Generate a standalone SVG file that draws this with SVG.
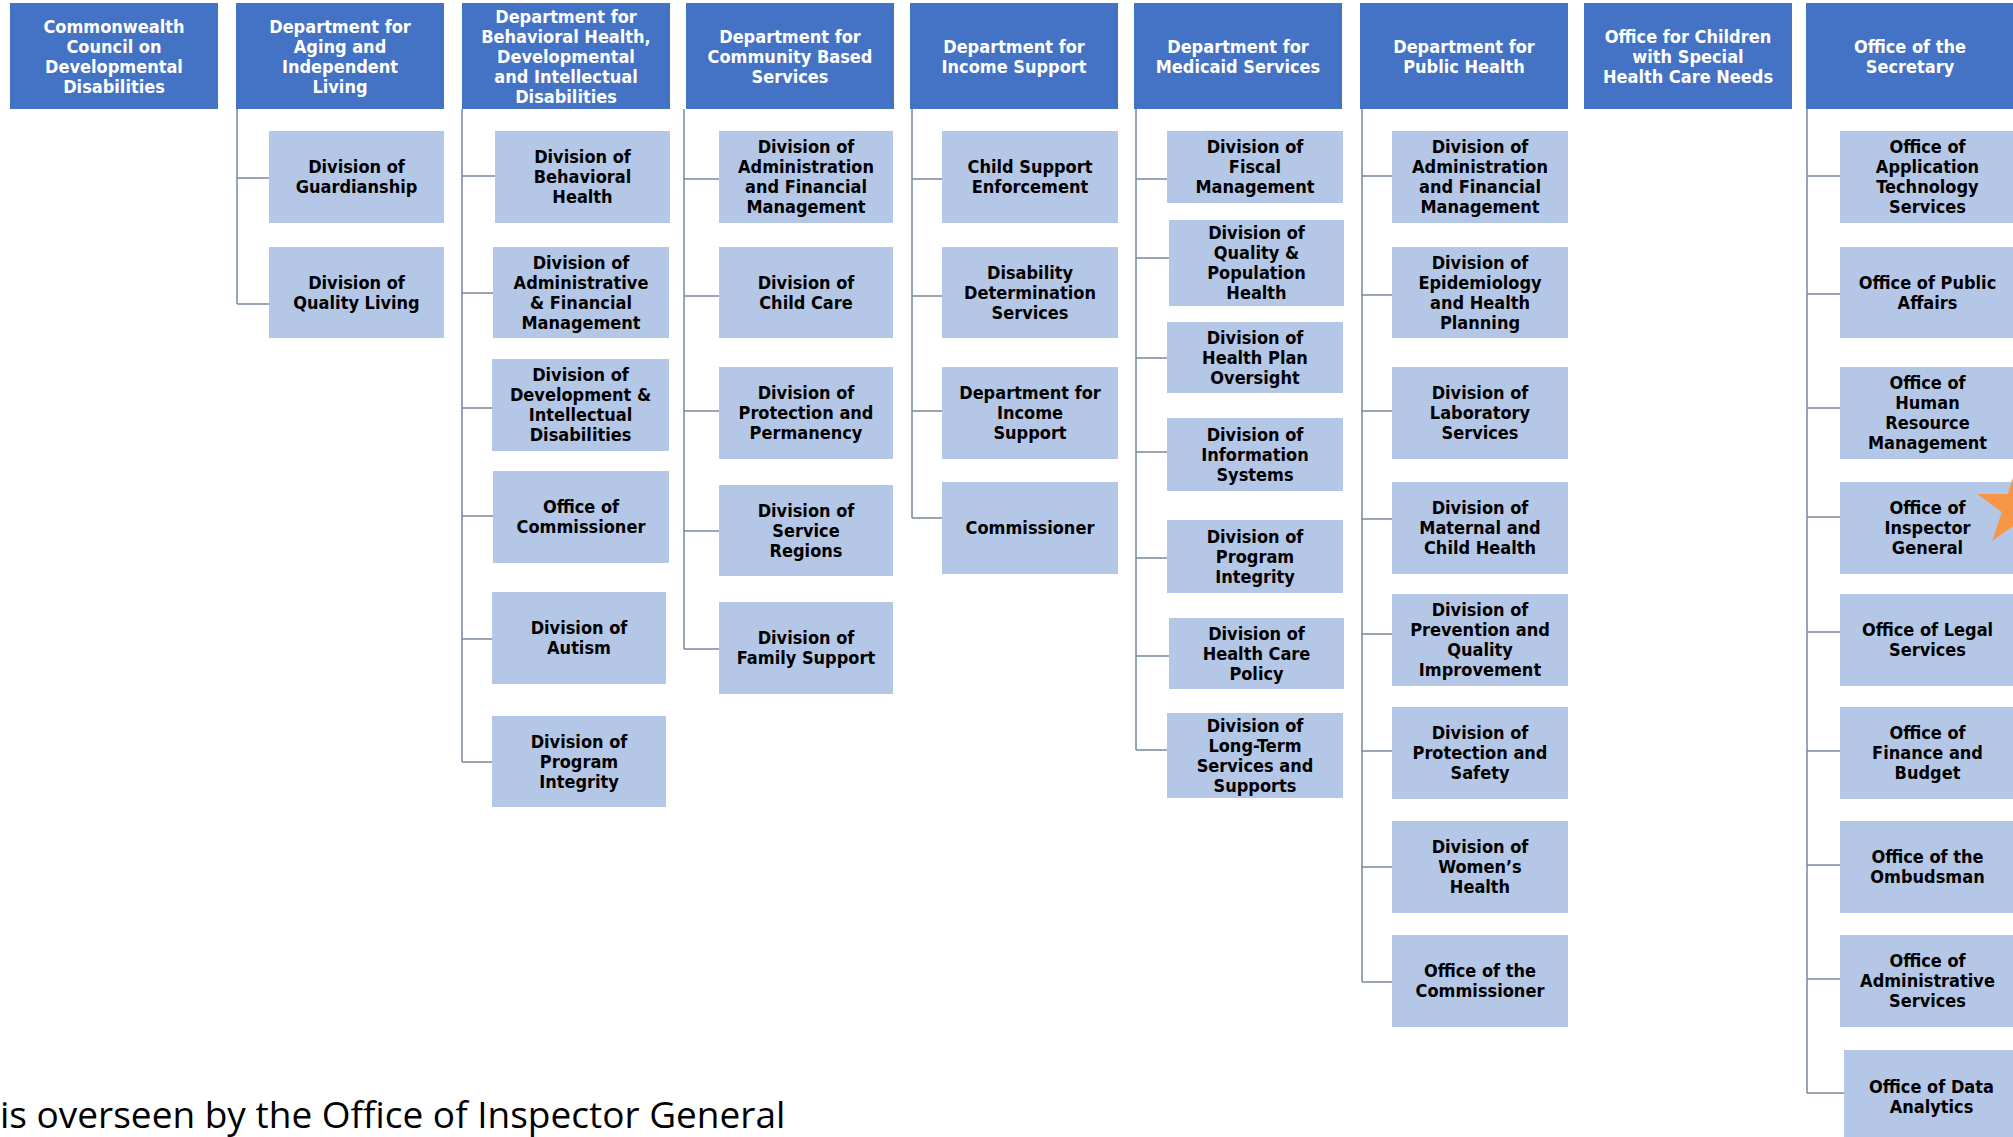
<svg xmlns="http://www.w3.org/2000/svg" width="2013" height="1137" viewBox="0 0 2013 1137">
<style>
.hd{fill:#4472C4}
.ch{fill:#B4C7E7}
.ht{font-family:"DejaVu Sans Condensed","DejaVu Sans",sans-serif;font-stretch:condensed;font-weight:bold;font-size:18px;fill:#FFFFFF;text-anchor:middle}
.ct{font-family:"DejaVu Sans Condensed","DejaVu Sans",sans-serif;font-stretch:condensed;font-weight:bold;font-size:18px;fill:#000000;text-anchor:middle}
.cn{stroke:#7A889C;stroke-width:1.5;fill:none}
.note{font-family:"Open Sans",sans-serif;font-size:37px;fill:#000000}
</style>
<rect width="2013" height="1137" fill="#FFFFFF"/>
<g id="connectors">
<path class="cn" d="M237 109V304M237 178H269M237 304H269"/>
<path class="cn" d="M462 109V762M462 176H495M462 293H493M462 408H492M462 516H493M462 639H492M462 762H492"/>
<path class="cn" d="M684 109V649M684 179H719M684 296H719M684 411H719M684 531H719M684 649H719"/>
<path class="cn" d="M912 109V518M912 179H942M912 296H942M912 411H942M912 518H942"/>
<path class="cn" d="M1136 109V750M1136 179H1167M1136 258H1169M1136 358H1167M1136 452H1167M1136 558H1167M1136 656H1169M1136 750H1167"/>
<path class="cn" d="M1362 109V982M1362 176H1392M1362 295H1392M1362 411H1392M1362 519H1392M1362 634H1392M1362 751H1392M1362 867H1392M1362 982H1392"/>
<path class="cn" d="M1807 109V1093M1807 176H1840M1807 294H1840M1807 408H1840M1807 517H1840M1807 632H1840M1807 751H1840M1807 865H1840M1807 979H1840M1807 1093H1844"/>
</g>
<g id="h1"><rect class="hd" x="10" y="3" width="208" height="106"/><text class="ht"><tspan x="114" y="33">Commonwealth</tspan><tspan x="114" y="53">Council on</tspan><tspan x="114" y="73">Developmental</tspan><tspan x="114" y="93">Disabilities</tspan></text></g>
<g id="h2"><rect class="hd" x="236" y="3" width="208" height="106"/><text class="ht"><tspan x="340" y="33">Department for</tspan><tspan x="340" y="53">Aging and</tspan><tspan x="340" y="73">Independent</tspan><tspan x="340" y="93">Living</tspan></text></g>
<g id="h3"><rect class="hd" x="462" y="3" width="208" height="106"/><text class="ht"><tspan x="566" y="23">Department for</tspan><tspan x="566" y="43">Behavioral Health,</tspan><tspan x="566" y="63">Developmental</tspan><tspan x="566" y="83">and Intellectual</tspan><tspan x="566" y="103">Disabilities</tspan></text></g>
<g id="h4"><rect class="hd" x="686" y="3" width="208" height="106"/><text class="ht"><tspan x="790" y="43">Department for</tspan><tspan x="790" y="63">Community Based</tspan><tspan x="790" y="83">Services</tspan></text></g>
<g id="h5"><rect class="hd" x="910" y="3" width="208" height="106"/><text class="ht"><tspan x="1014" y="53">Department for</tspan><tspan x="1014" y="73">Income Support</tspan></text></g>
<g id="h6"><rect class="hd" x="1134" y="3" width="208" height="106"/><text class="ht"><tspan x="1238" y="53">Department for</tspan><tspan x="1238" y="73">Medicaid Services</tspan></text></g>
<g id="h7"><rect class="hd" x="1360" y="3" width="208" height="106"/><text class="ht"><tspan x="1464" y="53">Department for</tspan><tspan x="1464" y="73">Public Health</tspan></text></g>
<g id="h8"><rect class="hd" x="1584" y="3" width="208" height="106"/><text class="ht"><tspan x="1688" y="43">Office for Children</tspan><tspan x="1688" y="63">with Special</tspan><tspan x="1688" y="83">Health Care Needs</tspan></text></g>
<g id="h9"><rect class="hd" x="1806" y="3" width="208" height="106"/><text class="ht"><tspan x="1910" y="53">Office of the</tspan><tspan x="1910" y="73">Secretary</tspan></text></g>

<g id="c2a"><rect class="ch" x="269" y="131" width="175" height="92"/><text class="ct"><tspan x="356.5" y="173">Division of</tspan><tspan x="356.5" y="193">Guardianship</tspan></text></g>
<g id="c2b"><rect class="ch" x="269" y="247" width="175" height="91"/><text class="ct"><tspan x="356.5" y="288.5">Division of</tspan><tspan x="356.5" y="308.5">Quality Living</tspan></text></g>

<g id="c3a"><rect class="ch" x="495" y="131" width="175" height="92"/><text class="ct"><tspan x="582.5" y="163">Division of</tspan><tspan x="582.5" y="183">Behavioral</tspan><tspan x="582.5" y="203">Health</tspan></text></g>
<g id="c3b"><rect class="ch" x="493" y="247" width="176" height="91"/><text class="ct"><tspan x="581" y="268.5">Division of</tspan><tspan x="581" y="288.5">Administrative</tspan><tspan x="581" y="308.5">&amp; Financial</tspan><tspan x="581" y="328.5">Management</tspan></text></g>
<g id="c3c"><rect class="ch" x="492" y="359" width="177" height="92"/><text class="ct"><tspan x="580.5" y="381">Division of</tspan><tspan x="580.5" y="401">Development &amp;</tspan><tspan x="580.5" y="421">Intellectual</tspan><tspan x="580.5" y="441">Disabilities</tspan></text></g>
<g id="c3d"><rect class="ch" x="493" y="471" width="176" height="92"/><text class="ct"><tspan x="581" y="513">Office of</tspan><tspan x="581" y="533">Commissioner</tspan></text></g>
<g id="c3e"><rect class="ch" x="492" y="592" width="174" height="92"/><text class="ct"><tspan x="579" y="634">Division of</tspan><tspan x="579" y="654">Autism</tspan></text></g>
<g id="c3f"><rect class="ch" x="492" y="716" width="174" height="91"/><text class="ct"><tspan x="579" y="747.5">Division of</tspan><tspan x="579" y="767.5">Program</tspan><tspan x="579" y="787.5">Integrity</tspan></text></g>

<g id="c4a"><rect class="ch" x="719" y="131" width="174" height="92"/><text class="ct"><tspan x="806" y="153">Division of</tspan><tspan x="806" y="173">Administration</tspan><tspan x="806" y="193">and Financial</tspan><tspan x="806" y="213">Management</tspan></text></g>
<g id="c4b"><rect class="ch" x="719" y="247" width="174" height="91"/><text class="ct"><tspan x="806" y="288.5">Division of</tspan><tspan x="806" y="308.5">Child Care</tspan></text></g>
<g id="c4c"><rect class="ch" x="719" y="367" width="174" height="92"/><text class="ct"><tspan x="806" y="399">Division of</tspan><tspan x="806" y="419">Protection and</tspan><tspan x="806" y="439">Permanency</tspan></text></g>
<g id="c4d"><rect class="ch" x="719" y="485" width="174" height="91"/><text class="ct"><tspan x="806" y="516.5">Division of</tspan><tspan x="806" y="536.5">Service</tspan><tspan x="806" y="556.5">Regions</tspan></text></g>
<g id="c4e"><rect class="ch" x="719" y="602" width="174" height="92"/><text class="ct"><tspan x="806" y="644">Division of</tspan><tspan x="806" y="664">Family Support</tspan></text></g>

<g id="c5a"><rect class="ch" x="942" y="131" width="176" height="92"/><text class="ct"><tspan x="1030" y="173">Child Support</tspan><tspan x="1030" y="193">Enforcement</tspan></text></g>
<g id="c5b"><rect class="ch" x="942" y="247" width="176" height="91"/><text class="ct"><tspan x="1030" y="278.5">Disability</tspan><tspan x="1030" y="298.5">Determination</tspan><tspan x="1030" y="318.5">Services</tspan></text></g>
<g id="c5c"><rect class="ch" x="942" y="367" width="176" height="92"/><text class="ct"><tspan x="1030" y="399">Department for</tspan><tspan x="1030" y="419">Income</tspan><tspan x="1030" y="439">Support</tspan></text></g>
<g id="c5d"><rect class="ch" x="942" y="482" width="176" height="92"/><text class="ct"><tspan x="1030" y="534">Commissioner</tspan></text></g>

<g id="c6a"><rect class="ch" x="1167" y="131" width="176" height="72"/><text class="ct"><tspan x="1255" y="153">Division of</tspan><tspan x="1255" y="173">Fiscal</tspan><tspan x="1255" y="193">Management</tspan></text></g>
<g id="c6b"><rect class="ch" x="1169" y="220" width="175" height="86"/><text class="ct"><tspan x="1256.5" y="239">Division of</tspan><tspan x="1256.5" y="259">Quality &amp;</tspan><tspan x="1256.5" y="279">Population</tspan><tspan x="1256.5" y="299">Health</tspan></text></g>
<g id="c6c"><rect class="ch" x="1167" y="322" width="176" height="71"/><text class="ct"><tspan x="1255" y="343.5">Division of</tspan><tspan x="1255" y="363.5">Health Plan</tspan><tspan x="1255" y="383.5">Oversight</tspan></text></g>
<g id="c6d"><rect class="ch" x="1167" y="418" width="176" height="73"/><text class="ct"><tspan x="1255" y="440.5">Division of</tspan><tspan x="1255" y="460.5">Information</tspan><tspan x="1255" y="480.5">Systems</tspan></text></g>
<g id="c6e"><rect class="ch" x="1167" y="520" width="176" height="73"/><text class="ct"><tspan x="1255" y="542.5">Division of</tspan><tspan x="1255" y="562.5">Program</tspan><tspan x="1255" y="582.5">Integrity</tspan></text></g>
<g id="c6f"><rect class="ch" x="1169" y="618" width="175" height="71"/><text class="ct"><tspan x="1256.5" y="639.5">Division of</tspan><tspan x="1256.5" y="659.5">Health Care</tspan><tspan x="1256.5" y="679.5">Policy</tspan></text></g>
<g id="c6g"><rect class="ch" x="1167" y="713" width="176" height="85"/><text class="ct"><tspan x="1255" y="731.5">Division of</tspan><tspan x="1255" y="751.5">Long-Term</tspan><tspan x="1255" y="771.5">Services and</tspan><tspan x="1255" y="791.5">Supports</tspan></text></g>

<g id="c7a"><rect class="ch" x="1392" y="131" width="176" height="92"/><text class="ct"><tspan x="1480" y="153">Division of</tspan><tspan x="1480" y="173">Administration</tspan><tspan x="1480" y="193">and Financial</tspan><tspan x="1480" y="213">Management</tspan></text></g>
<g id="c7b"><rect class="ch" x="1392" y="247" width="176" height="91"/><text class="ct"><tspan x="1480" y="268.5">Division of</tspan><tspan x="1480" y="288.5">Epidemiology</tspan><tspan x="1480" y="308.5">and Health</tspan><tspan x="1480" y="328.5">Planning</tspan></text></g>
<g id="c7c"><rect class="ch" x="1392" y="367" width="176" height="92"/><text class="ct"><tspan x="1480" y="399">Division of</tspan><tspan x="1480" y="419">Laboratory</tspan><tspan x="1480" y="439">Services</tspan></text></g>
<g id="c7d"><rect class="ch" x="1392" y="482" width="176" height="92"/><text class="ct"><tspan x="1480" y="514">Division of</tspan><tspan x="1480" y="534">Maternal and</tspan><tspan x="1480" y="554">Child Health</tspan></text></g>
<g id="c7e"><rect class="ch" x="1392" y="594" width="176" height="92"/><text class="ct"><tspan x="1480" y="616">Division of</tspan><tspan x="1480" y="636">Prevention and</tspan><tspan x="1480" y="656">Quality</tspan><tspan x="1480" y="676">Improvement</tspan></text></g>
<g id="c7f"><rect class="ch" x="1392" y="707" width="176" height="92"/><text class="ct"><tspan x="1480" y="739">Division of</tspan><tspan x="1480" y="759">Protection and</tspan><tspan x="1480" y="779">Safety</tspan></text></g>
<g id="c7g"><rect class="ch" x="1392" y="821" width="176" height="92"/><text class="ct"><tspan x="1480" y="853">Division of</tspan><tspan x="1480" y="873">Women’s</tspan><tspan x="1480" y="893">Health</tspan></text></g>
<g id="c7h"><rect class="ch" x="1392" y="935" width="176" height="92"/><text class="ct"><tspan x="1480" y="977">Office of the</tspan><tspan x="1480" y="997">Commissioner</tspan></text></g>

<g id="c9a"><rect class="ch" x="1840" y="131" width="175" height="92"/><text class="ct"><tspan x="1927.5" y="153">Office of</tspan><tspan x="1927.5" y="173">Application</tspan><tspan x="1927.5" y="193">Technology</tspan><tspan x="1927.5" y="213">Services</tspan></text></g>
<g id="c9b"><rect class="ch" x="1840" y="247" width="175" height="91"/><text class="ct"><tspan x="1927.5" y="288.5">Office of Public</tspan><tspan x="1927.5" y="308.5">Affairs</tspan></text></g>
<g id="c9c"><rect class="ch" x="1840" y="367" width="175" height="92"/><text class="ct"><tspan x="1927.5" y="389">Office of</tspan><tspan x="1927.5" y="409">Human</tspan><tspan x="1927.5" y="429">Resource</tspan><tspan x="1927.5" y="449">Management</tspan></text></g>
<g id="c9d"><rect class="ch" x="1840" y="482" width="175" height="92"/><text class="ct"><tspan x="1927.5" y="514">Office of</tspan><tspan x="1927.5" y="534">Inspector</tspan><tspan x="1927.5" y="554">General</tspan></text></g>
<g id="c9e"><rect class="ch" x="1840" y="594" width="175" height="92"/><text class="ct"><tspan x="1927.5" y="636">Office of Legal</tspan><tspan x="1927.5" y="656">Services</tspan></text></g>
<g id="c9f"><rect class="ch" x="1840" y="707" width="175" height="92"/><text class="ct"><tspan x="1927.5" y="739">Office of</tspan><tspan x="1927.5" y="759">Finance and</tspan><tspan x="1927.5" y="779">Budget</tspan></text></g>
<g id="c9g"><rect class="ch" x="1840" y="821" width="175" height="92"/><text class="ct"><tspan x="1927.5" y="863">Office of the</tspan><tspan x="1927.5" y="883">Ombudsman</tspan></text></g>
<g id="c9h"><rect class="ch" x="1840" y="935" width="175" height="92"/><text class="ct"><tspan x="1927.5" y="967">Office of</tspan><tspan x="1927.5" y="987">Administrative</tspan><tspan x="1927.5" y="1007">Services</tspan></text></g>
<g id="c9i"><rect class="ch" x="1844" y="1050" width="175" height="90"/><text class="ct"><tspan x="1931.5" y="1093">Office of Data</tspan><tspan x="1931.5" y="1113">Analytics</tspan></text></g>

<g id="star"><polygon fill="#F79646" points="2017,465 2026.4,494.1 2057,494 2032.2,511.9 2041.7,541 2017,523 1992.3,541 2001.8,511.9 1977,494 2007.6,494.1"/></g>
<text class="note" x="0" y="1128">is overseen by the Office of Inspector General</text>
</svg>
